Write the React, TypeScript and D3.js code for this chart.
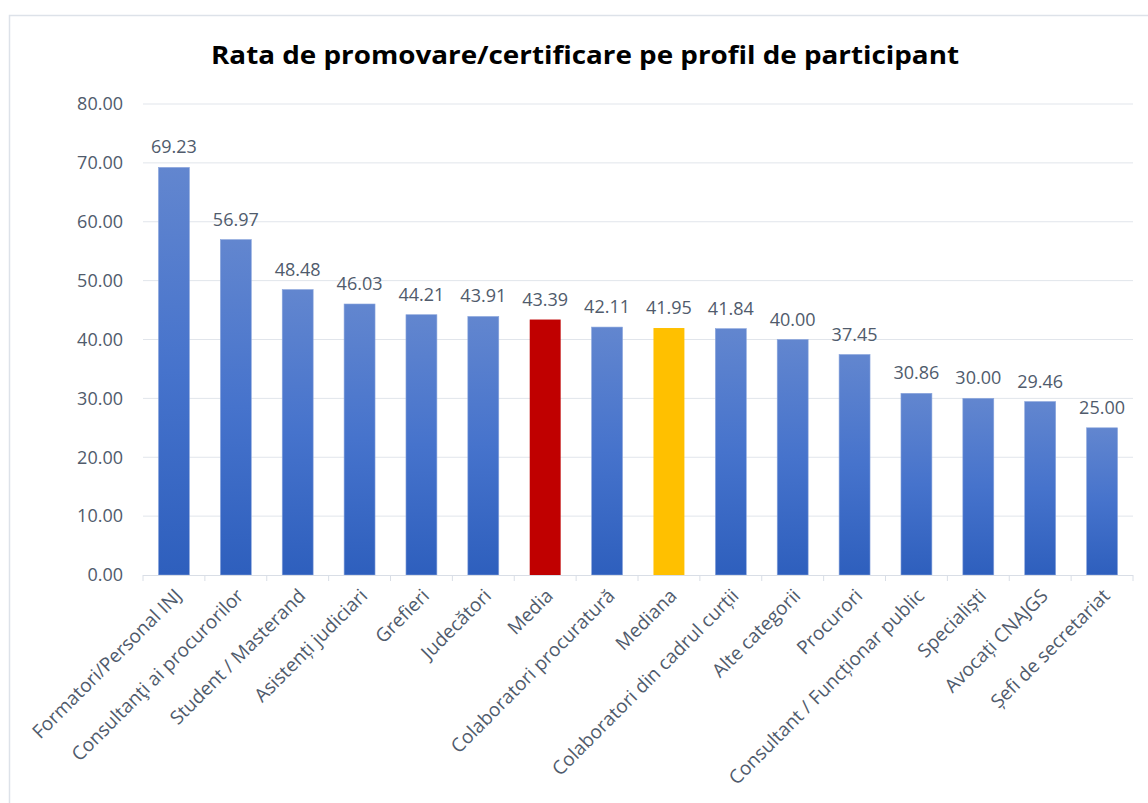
import React from "react";
import * as d3 from "d3";

const categories = [
  "Formatori/Personal INJ",
  "Consultanţi ai procurorilor",
  "Student / Masterand",
  "Asistenți judiciari",
  "Grefieri",
  "Judecători",
  "Media",
  "Colaboratori procuratură",
  "Mediana",
  "Colaboratori din cadrul curții",
  "Alte categorii",
  "Procurori",
  "Consultant / Funcționar public",
  "Specialiști",
  "Avocați CNAJGS",
  "Șefi de secretariat",
];
const values = [69.23, 56.97, 48.48, 46.03, 44.21, 43.91, 43.39, 42.11, 41.95, 41.84, 40.0, 37.45, 30.86, 30.0, 29.46, 25.0];
const yTicks = [0, 10, 20, 30, 40, 50, 60, 70, 80];
const title = "Rata de promovare/certificare pe profil de participant";

const W = 1148;
const H = 803;
const left = 143;
const right = 1133;
const top = 104;
const bottom = 575;
const font = "'Open Sans', Lato, sans-serif";
const textColor = "#505b6c";

export default function App() {
  const x = d3.scaleBand<string>().domain(categories).range([left, right]).paddingInner(0.5).paddingOuter(0.25);
  const y = d3.scaleLinear().domain([0, 80]).range([bottom, top]);
  const step = x.step();
  const boundaries = d3.range(categories.length + 1).map((i) => left + i * step);

  const fillFor = (c: string) => (c === "Media" ? "#c00000" : c === "Mediana" ? "#ffc000" : "url(#barGrad)");

  return (
    <svg width={W} height={H} style={{ position: "absolute", left: 0, top: 0, background: "#fff" }}>
      <defs>
        <linearGradient id="barGrad" x1="0" y1="0" x2="0" y2="1">
          <stop offset="0" stopColor="#6286cf" />
          <stop offset="0.5" stopColor="#4673cc" />
          <stop offset="1" stopColor="#2e5fbd" />
        </linearGradient>
      </defs>
      <rect x={9.5} y={15.5} width={W} height={H} fill="#fff" stroke="#dde2e9" strokeWidth={1.5} />
      <text x={585} y={64} textAnchor="middle" fontFamily={font} fontWeight={700} fontSize={25} fill="#000" textLength={748} lengthAdjust="spacingAndGlyphs">
        {title}
      </text>
      {yTicks.map((t) => (
        <g key={t}>
          {t > 0 && <line x1={left} x2={right} y1={y(t)} y2={y(t)} stroke="#e1e5eb" strokeWidth={1} />}
          <text x={123} y={y(t)} dy="0.35em" textAnchor="end" fontFamily={font} fontSize={18} fill={textColor}>
            {t.toFixed(2)}
          </text>
        </g>
      ))}
      {categories.map((c, i) => {
        const v = values[i];
        const bx = x(c)!;
        const bw = x.bandwidth();
        return (
          <g key={c}>
            <rect x={bx} y={y(v)} width={bw} height={bottom - y(v)} fill={fillFor(c)} stroke={c === "Media" || c === "Mediana" ? "none" : "#8aa5dc"} strokeWidth={0.6} />
            <text x={bx + bw / 2} y={y(v) - 14} textAnchor="middle" fontFamily={font} fontSize={18} fill={textColor}>
              {v.toFixed(2)}
            </text>
          </g>
        );
      })}
      <line x1={left} x2={right} y1={bottom + 0.5} y2={bottom + 0.5} stroke="#d9dee6" strokeWidth={1} />
      {boundaries.map((b, i) => (
        <line key={i} x1={b} x2={b} y1={bottom} y2={bottom + 6} stroke="#d9dee6" strokeWidth={1} />
      ))}
      {categories.map((c) => {
        const cx = x(c)! + x.bandwidth() / 2;
        return (
          <text
            key={c}
            transform={`translate(${cx + 9},${597}) rotate(-45)`}
            textAnchor="end"
            fontFamily={font}
            fontSize={19}
            fill={textColor}
          >
            {c}
          </text>
        );
      })}
    </svg>
  );
}
